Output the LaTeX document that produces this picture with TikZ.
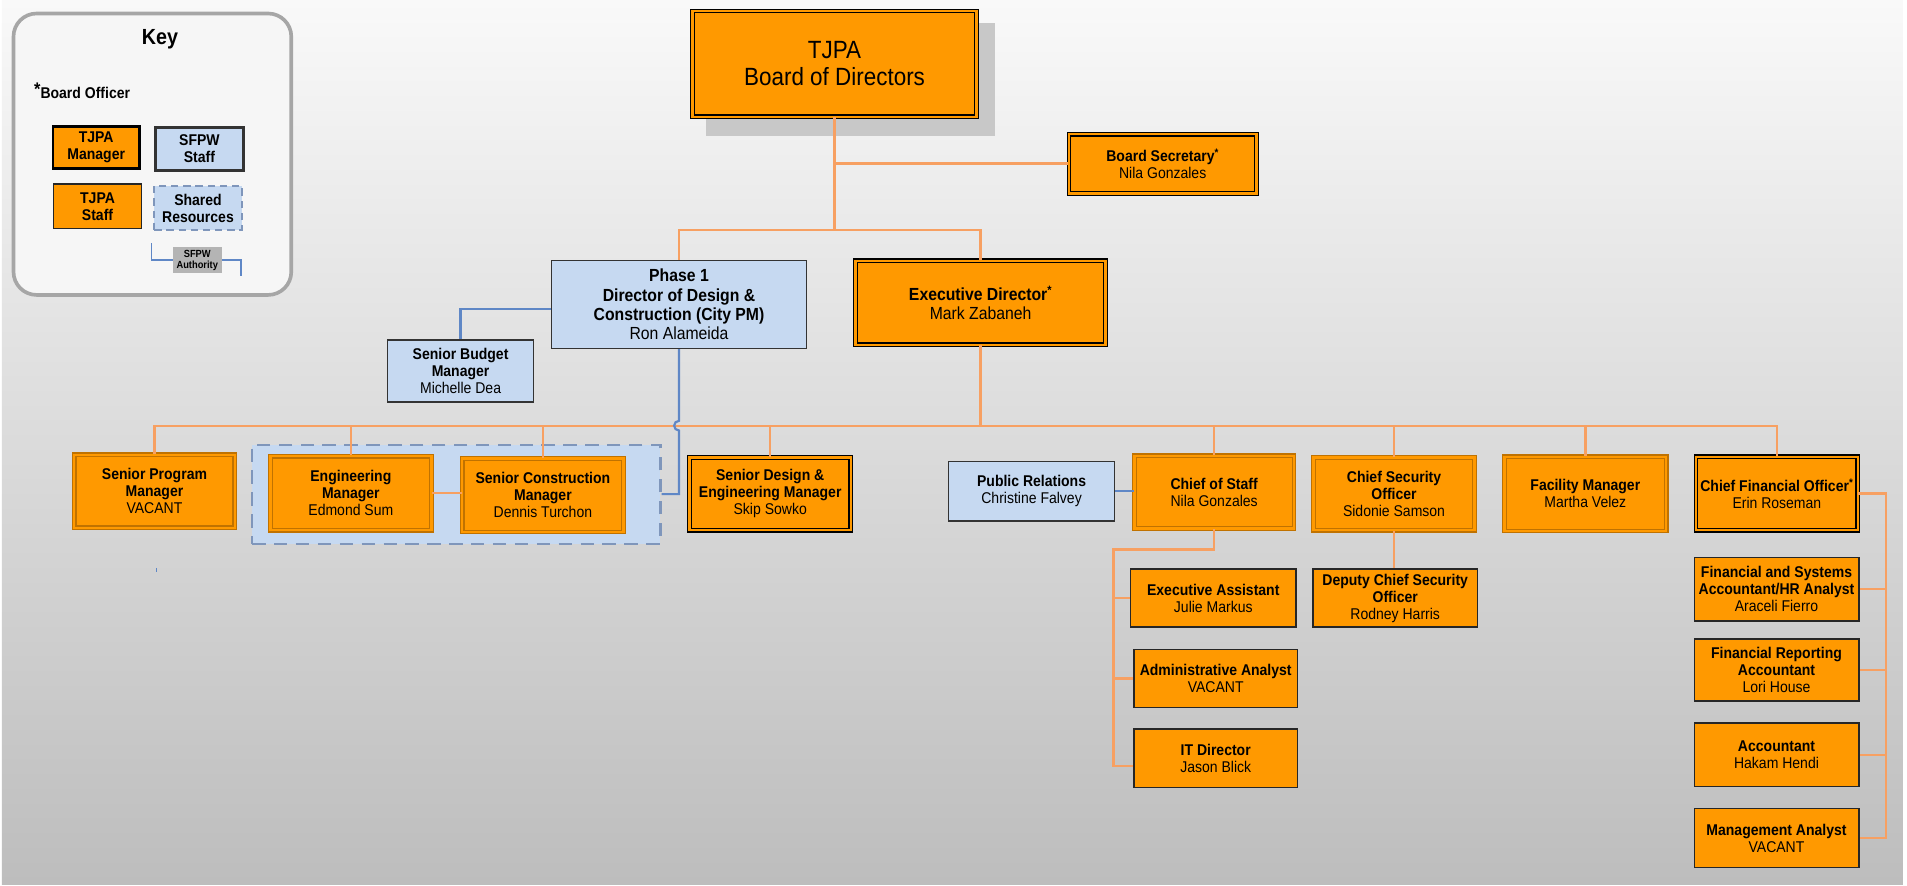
\documentclass[tikz,border=0pt]{standalone}
\usepackage{fontspec}
\setmainfont{Liberation Sans}[FakeStretch=0.9]
\definecolor{tjorange}{HTML}{FF9900}
\definecolor{mgrbrown}{HTML}{C07200}
\definecolor{sfblue}{HTML}{C6D9F1}
\definecolor{lineorange}{HTML}{F7A062}
\definecolor{lineblue}{HTML}{5F87C6}
\definecolor{dashblue}{HTML}{7F96BB}
\definecolor{keygray}{HTML}{A6A6A6}
\definecolor{keyfill}{HTML}{F6F6F6}
\definecolor{authgray}{HTML}{B4B4B4}
\definecolor{shadowgray}{HTML}{C8C8C8}
\definecolor{bgtop}{HTML}{F9F9F9}
\definecolor{bgbottom}{HTML}{BDBDBD}
\newcommand\bodysize{\fontsize{12.8pt}{14pt}\selectfont}
\newcommand\bigsize{\fontsize{14.4pt}{15.8pt}\selectfont}
\newcommand\boardsize{\fontsize{20.5pt}{22pt}\selectfont}
\begin{document}
\begin{tikzpicture}[
    box/.style={rectangle, align=center, inner sep=1pt, text=black, font=\bodysize},
    mgr/.style={box, fill=tjorange, draw=black, double=tjorange, double distance=2pt, line width=1pt},
    mgrbrown/.style={mgr, draw=mgrbrown},
    staff/.style={box, fill=tjorange, draw=black!85, line width=1.2pt},
    sfpw/.style={box, fill=sfblue, draw=black!80, line width=1.2pt},
    sharedbox/.style={box, fill=sfblue, draw=dashblue, line width=1.8pt, dash pattern=on 11pt off 7pt},
    keyframe/.style={draw=keygray, line width=3pt, fill=keyfill, rounded corners=19pt},
    authlabel/.style={box, fill=authgray, inner sep=0.5pt, minimum width=40.3pt, minimum height=22pt, font=\fontsize{8.5pt}{9pt}\selectfont\bfseries},
    orgline/.style={draw=lineorange, line width=2pt},
    sfline/.style={draw=lineblue, line width=1.8pt}]
    \useasboundingbox (0pt,0pt) rectangle (1568pt,-727.7pt);
    \fill[white] (0pt,0pt) rectangle (1568pt,-727.7pt);
    \shade[top color=bgtop, bottom color=bgbottom] (1.6pt,0pt) rectangle (1564.5pt,-727pt);
    \fill[shadowgray] (580.5pt,-19.2pt) rectangle (818.1pt,-111.8pt);

    \node[keyframe, minimum width=228.4pt, minimum height=231.4pt] (key) at (125.3pt,-126.8pt) {};
    \node[font=\fontsize{18pt}{18pt}\selectfont\bfseries] (keytitle) at (131.6pt,-32.4pt) {Key};
    \node[font=\bodysize\bfseries] (keyofficer) at (67.5pt,-74.5pt) {\raisebox{2pt}{\fontsize{15pt}{15pt}\selectfont *}Board Officer};
    \node[staff, draw=black, line width=2.2pt, minimum width=71pt, minimum height=34.8pt] (keymgr) at (79.1pt,-121.3pt) {\textbf{TJPA}\\\textbf{Manager}};
    \node[sfpw, line width=2.2pt, minimum width=72.7pt, minimum height=35.4pt] (keysfpw) at (164pt,-122.4pt) {\textbf{SFPW}\\\textbf{Staff}};
    \node[staff, minimum width=72.5pt, minimum height=36.6pt] (keystaff) at (80.2pt,-169.7pt) {\textbf{TJPA}\\\textbf{Staff}};
    \node[sharedbox, dash pattern=on 6pt off 4pt, minimum width=71.8pt, minimum height=36.2pt] (keyshared) at (162.8pt,-171pt) {\textbf{Shared}\\\textbf{Resources}};
    \node[authlabel] (keyauth) at (162.2pt,-213.8pt) {SFPW\\Authority};
    \coordinate (authleft) at (124.7pt,-200pt);
    \coordinate (authright) at (198pt,-227pt);
    \draw[sfline, line width=1.2pt] (authleft) |- (keyauth.west);
    \draw[sfline, line width=1.2pt] (keyauth.east) -| (authright);

    \node[mgr, font=\boardsize, minimum width=233.5pt, minimum height=87pt] (board) at (686.2pt,-52.5pt) {TJPA\\Board of Directors};
    \node[mgr, minimum width=154pt, minimum height=48.7pt] (bsec) at (956pt,-134.6pt) {\textbf{Board Secretary\textsuperscript{*}}\\Nila Gonzales};
    \node[sfpw, font=\bigsize, minimum width=209.4pt, minimum height=72pt] (phase1) at (558.3pt,-250.4pt) {\textbf{Phase 1}\\\textbf{Director of Design \&}\\\textbf{Construction (City PM)}\\Ron Alameida};
    \node[mgr, font=\bigsize, minimum width=205.5pt, minimum height=69pt] (exec) at (806.3pt,-249pt) {\textbf{Executive Director\textsuperscript{*}}\\Mark Zabaneh};
    \node[sfpw, minimum width=120.2pt, minimum height=51.1pt] (budget) at (378.7pt,-305pt) {\textbf{Senior Budget}\\\textbf{Manager}\\Michelle Dea};

    \node[sharedbox, minimum width=335.7pt, minimum height=81.4pt] (shared) at (375.2pt,-406.3pt) {};
    \node[mgrbrown, minimum width=132pt, minimum height=60pt] (spm) at (127pt,-404pt) {\textbf{Senior Program}\\\textbf{Manager}\\VACANT};
    \node[mgrbrown, minimum width=132.5pt, minimum height=61pt] (engm) at (288.5pt,-405.5pt) {\textbf{Engineering}\\\textbf{Manager}\\Edmond Sum};
    \node[mgrbrown, minimum width=132.7pt, minimum height=60.4pt] (scm) at (446.4pt,-407.2pt) {\textbf{Senior Construction}\\\textbf{Manager}\\Dennis Turchon};
    \node[mgr, minimum width=132.7pt, minimum height=60pt] (sdem) at (633.3pt,-406pt) {\textbf{Senior Design \&}\\\textbf{Engineering Manager}\\Skip Sowko};
    \node[sfpw, minimum width=136.3pt, minimum height=48.8pt] (pr) at (848.2pt,-404pt) {\textbf{Public Relations}\\Christine Falvey};
    \node[mgrbrown, minimum width=131.3pt, minimum height=59.6pt] (cos) at (998.3pt,-404.6pt) {\textbf{Chief of Staff}\\Nila Gonzales};
    \node[mgrbrown, minimum width=132.6pt, minimum height=60pt] (cso) at (1146.2pt,-406pt) {\textbf{Chief Security}\\\textbf{Officer}\\Sidonie Samson};
    \node[mgrbrown, minimum width=133pt, minimum height=61pt] (fm) at (1303.5pt,-406.1pt) {\textbf{Facility Manager}\\Martha Velez};
    \node[mgr, minimum width=133.1pt, minimum height=60.4pt] (cfo) at (1461pt,-405.8pt) {\textbf{Chief Financial Officer\textsuperscript{*}}\\Erin Roseman};

    \node[staff, minimum width=135.9pt, minimum height=47.6pt] (ea) at (997.6pt,-491.7pt) {\textbf{Executive Assistant}\\Julie Markus};
    \node[staff, minimum width=134.5pt, minimum height=47.6pt] (aa) at (999.6pt,-558pt) {\textbf{Administrative Analyst}\\VACANT};
    \node[staff, minimum width=134.5pt, minimum height=47.9pt] (itd) at (999.6pt,-623.4pt) {\textbf{IT Director}\\Jason Blick};
    \node[staff, minimum width=135.3pt, minimum height=47.6pt] (dcso) at (1147.2pt,-491.7pt) {\textbf{Deputy Chief Security}\\\textbf{Officer}\\Rodney Harris};
    \node[staff, minimum width=135.3pt, minimum height=52.3pt] (fsa) at (1460.7pt,-484.4pt) {\textbf{Financial and Systems}\\\textbf{Accountant/HR Analyst}\\Araceli Fierro};
    \node[staff, minimum width=135.3pt, minimum height=51pt] (fra) at (1460.7pt,-550.9pt) {\textbf{Financial Reporting}\\\textbf{Accountant}\\Lori House};
    \node[staff, minimum width=135.3pt, minimum height=52.2pt] (acct) at (1460.7pt,-620.6pt) {\textbf{Accountant}\\Hakam Hendi};
    \node[staff, minimum width=135.3pt, minimum height=48.7pt] (mana) at (1460.7pt,-689pt) {\textbf{Management Analyst}\\VACANT};

    \coordinate (boardbus) at (686.2pt,-189pt);
    \draw[orgline] (board.south) -- (boardbus);
    \draw[orgline] (board.south |- bsec.west) -- (bsec.west);
    \draw[orgline] (phase1.north) |- (boardbus) -| (exec.north);
    \coordinate (mainbus) at (806.3pt,-350.3pt);
    \draw[orgline] (exec.south) -- (mainbus);
    \draw[orgline] (spm.north) |- (mainbus) -| (cfo.north);
    \foreach \n in {engm,scm,sdem,cos,cso,fm}
        \draw[orgline] (\n.north) -- (\n.north |- mainbus);
    \draw[orgline] (engm.east) -- (engm.east -| scm.west);
    \draw[orgline] (cso.south) -- (cso.south |- dcso.north);
    \coordinate (cosbus) at (915.4pt,-451.7pt);
    \coordinate (cosend) at (915.4pt,-629.8pt);
    \draw[orgline] (cos.south) |- (cosbus) -- (cosend) -- (cosend -| itd.west);
    \foreach \n in {ea,aa}
        \draw[orgline] (cosbus |- \n.west) -- (\n.west);
    \coordinate (cfobus) at (1550.5pt,-405.8pt);
    \draw[orgline] (cfo.east) -- (cfobus) |- (mana.east);
    \foreach \n in {fsa,fra,acct}
        \draw[orgline] (cfobus |- \n.east) -- (\n.east);

    \draw[sfline] ([yshift=-3.6pt]phase1.west) -| (budget.north);
    \coordinate (hoptop) at (558.3pt,-346pt);
    \draw[sfline] (phase1.south) -- (hoptop) arc[start angle=90, end angle=270, radius=4pt] -- (phase1.south |- shared.east) -- (shared.east);
    \draw[sfline] (pr.east) -- (pr.east -| cos.west);
    \coordinate (stray) at (128.5pt,-467pt);
    \draw[sfline, line width=1pt] (stray) -- ++(0pt,-3pt);
\end{tikzpicture}
\end{document}
